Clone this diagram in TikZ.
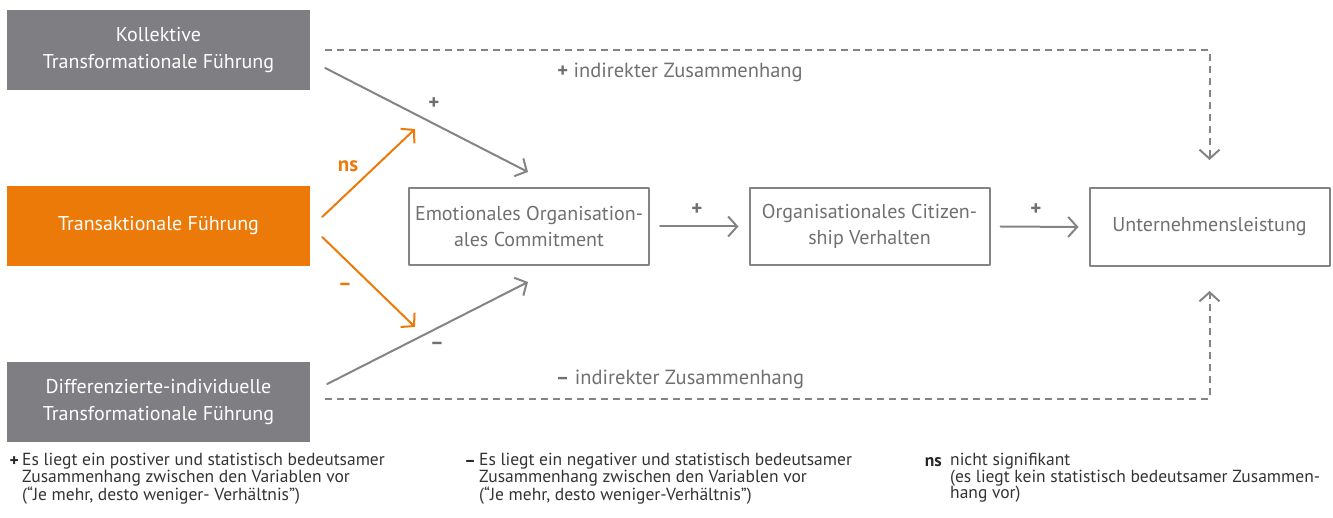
\documentclass[tikz,border=0pt]{standalone}
\usepackage{fontspec}
\setmainfont{PT Sans}
\usetikzlibrary{arrows.meta}
\definecolor{boxgray}{HTML}{7F7E82}
\definecolor{orng}{HTML}{EC7A08}
\definecolor{lgray}{HTML}{848487}
\definecolor{tgray}{HTML}{707073}
\begin{document}
\begin{tikzpicture}[x=1pt, y=-1pt, font=\fontsize{20}{26.5}\selectfont, line join=round, line cap=round,
	>={Straight Barb[length=9pt,width=20pt]},
	darkbox/.style={fill=boxgray, text=white, minimum width=303pt, minimum height=80pt, align=center, inner sep=0pt},
	lightbox/.style={draw=lgray, line width=2pt, text=tgray, minimum width=240pt, minimum height=77pt, align=center, inner sep=0pt},
	gline/.style={draw=lgray, line width=2pt, ->},
	oline/.style={draw=orng, line width=2pt, ->},
	dline/.style={draw=lgray, line width=2pt, dash pattern=on 7pt off 5pt, line cap=butt, ->},
	lbl/.style={text=tgray, inner sep=0pt, font=\fontsize{21}{22}\selectfont\bfseries},
	olbl/.style={lbl, text=orng},
	legend/.style={anchor=north west, align=left, inner sep=0pt, text=black!80, font=\fontsize{17.5}{16.5}\selectfont},
	sym/.style={anchor=base east, inner sep=0pt, text=black!85, font=\fontsize{17.5}{16.5}\selectfont\bfseries}]
	\useasboundingbox (0,0) rectangle (1333,518);
	% boxes
	\node[darkbox] (K) at (158.5,50) {Kollektive\\Transformationale Führung};
	\node[darkbox, fill=orng] (T) at (158.5,226) {Transaktionale Führung};
	\node[darkbox] (D) at (158.5,402) {Differenzierte-individuelle\\Transformationale Führung};
	\node[lightbox] (E) at (529,226.5) {Emotionales Organisation-\\ales Commitment};
	\node[lightbox] (O) at (869.5,226.5) {Organisationales Citizen-\\ship Verhalten};
	\node[lightbox, minimum height=78pt] (U) at (1209.5,227) {Unternehmensleistung};
	\coordinate (ns) at (415,129);
	\coordinate (mi) at (415,327);
	% arrows
	\draw[gline] ([xshift=15pt,yshift=-18pt]K.east) -- ([xshift=-1pt,yshift=15pt]E.north);
	\draw[gline] ([xshift=17pt,yshift=18pt]D.east) -- ([xshift=-1pt,yshift=-16pt]E.south);
	\draw[oline] ([xshift=12pt,yshift=9pt]T.east) -- (ns);
	\draw[oline] ([xshift=12pt,yshift=-11pt]T.east) -- (mi);
	\draw[gline] ([xshift=10pt]E.east) -- ([xshift=-10pt]O.west);
	\draw[gline] ([xshift=10pt]O.east) -- ([xshift=-10pt]U.west);
	\draw[dline] ([xshift=15pt]K.east) -- (U.north |- K.east) -- ([yshift=27pt]U.north);
	\draw[dline] ([xshift=15pt,yshift=3pt]D.east) -- ([yshift=3pt]U.south |- D.east) -- ([yshift=-24pt]U.south);
	% labels
	\node[lbl] (p1) at (434,104) {+};
	\node[olbl] (p2) at (348,166) {ns};
	\node[olbl] (p3) at (345,287) {–};
	\node[lbl] (p4) at (437,346) {–};
	\node[lbl] (p5) at (697,210) {+};
	\node[lbl] (p6) at (1036,210) {+};
	\node[lbl, font=\fontsize{20.5}{22}\selectfont] (ip) at (680,72) {\textbf{+} indirekter Zusammenhang};
	\node[lbl, font=\fontsize{20.5}{22}\selectfont] (im) at (680,379) {\textbf{–} indirekter Zusammenhang};
	% legend
	\node[sym] (l1) at (19,466) {+};
	\node[legend] (t1) at (22,453) {Es liegt ein postiver und statistisch bedeutsamer\\Zusammenhang zwischen den Variablen vor\\(“Je mehr, desto weniger- Verhältnis”)};
	\node[sym] (l2) at (476,466) {–};
	\node[legend] (t2) at (479,453) {Es liegt ein negativer und statistisch bedeutsamer\\Zusammenhang zwischen den Variablen vor\\(“Je mehr, desto weniger-Verhältnis”)};
	\node[sym] (l3) at (942,466) {ns};
	\node[legend] (t3) at (950,453) {nicht signifikant\\(es liegt kein statistisch bedeutsamer Zusammen-\\hang vor)};
\end{tikzpicture}
\end{document}
